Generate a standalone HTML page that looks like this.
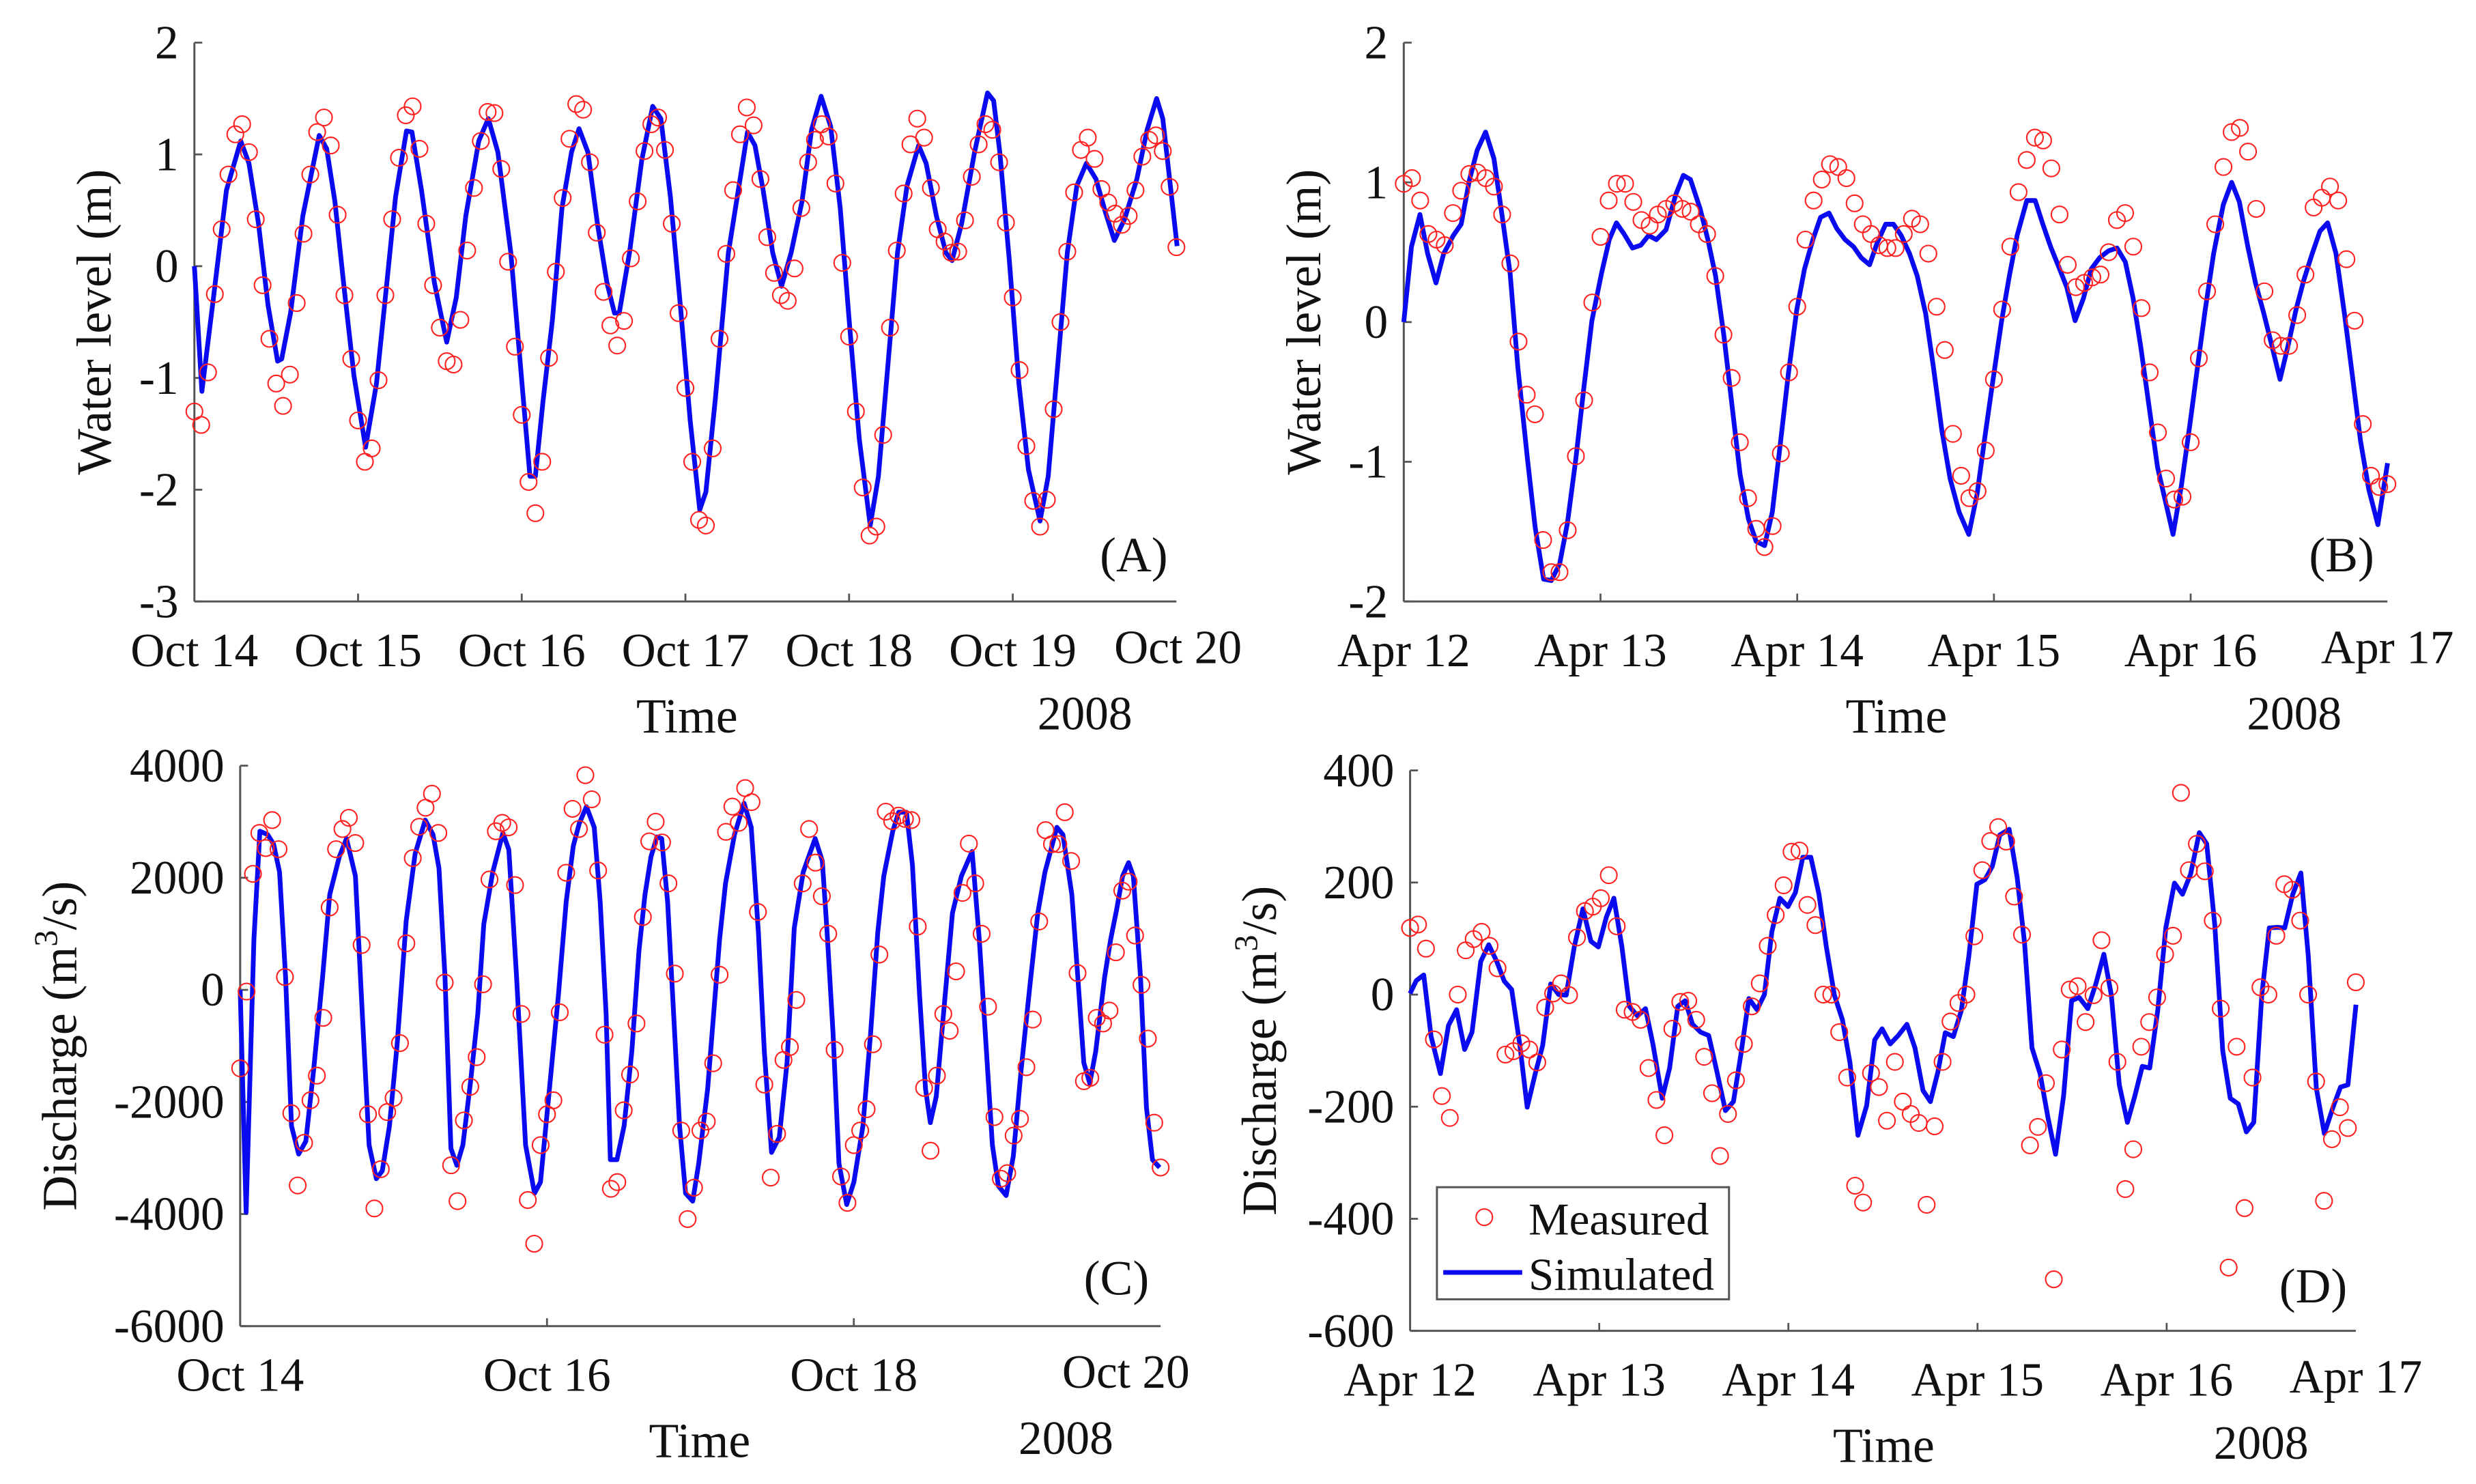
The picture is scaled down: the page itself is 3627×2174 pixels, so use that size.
<!DOCTYPE html>
<html><head><meta charset="utf-8"><style>
html,body{margin:0;padding:0;background:#fff;}
svg{display:block;font-family:"Liberation Serif","DejaVu Serif",serif;}
svg text{font-family:"Liberation Serif","DejaVu Serif",serif;fill:#111;}
</style></head><body>
<svg id="fig" width="3627" height="2174" viewBox="0 0 1568 940" font-family="Liberation Serif, DejaVu Serif, serif" xmlns="http://www.w3.org/2000/svg"></svg>
<script>
// ---------- Panel A: water level Oct 2008 (hours from Oct 14 00:00) ----------
const measA = [-1.30,-1.42,-0.95,-0.25,0.33,0.82,1.18,1.27,1.02,0.42,-0.17,-0.65,-1.05,-1.25,-0.97,-0.33,0.29,0.82,1.2,1.33,1.08,0.46,-0.26,-0.83,-1.38,-1.75,-1.63,-1.02,-0.26,0.42,0.97,1.35,1.43,1.05,0.38,-0.17,-0.55,-0.85,-0.88,-0.48,0.14,0.7,1.12,1.38,1.37,0.87,0.04,-0.72,-1.33,-1.93,-2.21,-1.75,-0.82,-0.05,0.61,1.14,1.45,1.4,0.93,0.3,-0.23,-0.53,-0.71,-0.49,0.07,0.58,1.03,1.27,1.33,1.04,0.38,-0.42,-1.09,-1.75,-2.27,-2.32,-1.63,-0.65,0.11,0.68,1.18,1.42,1.26,0.78,0.26,-0.06,-0.26,-0.31,-0.02,0.52,0.93,1.13,1.27,1.16,0.74,0.03,-0.63,-1.3,-1.98,-2.41,-2.33,-1.51,-0.55,0.14,0.65,1.09,1.32,1.15,0.7,0.33,0.22,0.12,0.13,0.41,0.8,1.09,1.27,1.22,0.93,0.39,-0.28,-0.93,-1.61,-2.1,-2.33,-2.09,-1.28,-0.5,0.13,0.66,1.04,1.15,0.96,0.69,0.57,0.47,0.37,0.45,0.68,0.98,1.13,1.17,1.03,0.71,0.17];
const simHoursA = [0,1.1,2.8,4.7,6.8,8.0,9.4,10.8,12.2,12.8,14.1,15.9,18.3,19.4,20.6,22.0,23.4,25.1,26.7,28.1,29.5,31.1,31.9,33.3,35.2,37.0,38.4,39.8,41.7,43.1,44.5,46.4,47.8,49.2,50.0,51.1,52.5,53.9,55.3,56.4,57.7,59.1,60.5,61.6,62.3,63.8,65.6,67.2,68.4,69.8,71.3,72.7,74.1,75.0,76.4,78.3,80.2,81.1,82.2,83.4,84.8,86.1,87.5,89.1,90.5,91.9,93.3,94.7,96.1,97.5,99.1,100.3,101.7,103.1,104.5,106.2,107.3,108.8,110.2,111.1,112.5,114.4,116.3,117.2,118.1,119.5,120.9,122.3,124.0,125.2,126.6,128.0,129.4,130.8,132.2,133.6,134.9,136.4,138.2,139.7,141.1,142.0,143.0,144.1];
const simValsA = [0,-1.12,-0.28,0.68,1.12,0.92,0.38,-0.35,-0.85,-0.83,-0.42,0.45,1.17,1.05,0.58,-0.22,-0.98,-1.62,-1.05,-0.22,0.62,1.21,1.2,0.68,-0.15,-0.68,-0.28,0.45,1.12,1.32,1.02,0.12,-0.88,-1.88,-1.88,-1.22,-0.48,0.52,1.02,1.23,1.02,0.38,-0.15,-0.42,-0.42,0.12,0.95,1.43,1.32,0.62,-0.38,-1.38,-2.18,-2.02,-1.18,0.12,0.85,1.2,1.08,0.68,0.12,-0.18,0.12,0.58,1.22,1.52,1.25,0.52,-0.55,-1.55,-2.32,-1.88,-0.88,0.12,0.72,1.08,0.92,0.45,0.12,0.05,0.38,1.02,1.55,1.48,1.02,0.05,-1.05,-1.82,-2.28,-1.88,-0.88,0.12,0.72,0.92,0.78,0.48,0.23,0.42,0.78,1.22,1.5,1.32,0.78,0.18];
const ticksYA = [2,1,0,-1,-2,-3];
const tickLabelsXA = ["Oct 14","Oct 15","Oct 16","Oct 17","Oct 18","Oct 19","Oct 20"];

// ---------- Panel B: water level Apr 2008 (hours from Apr 12 00:00) ----------
const measB = [0.99,1.03,0.87,0.63,0.59,0.55,0.78,0.94,1.06,1.07,1.03,0.97,0.77,0.42,-0.14,-0.52,-0.66,-1.56,-1.79,-1.79,-1.49,-0.96,-0.56,0.14,0.61,0.87,0.99,0.99,0.86,0.73,0.69,0.77,0.81,0.85,0.81,0.79,0.70,0.63,0.33,-0.09,-0.40,-0.86,-1.26,-1.48,-1.61,-1.46,-0.94,-0.36,0.11,0.59,0.87,1.02,1.13,1.11,1.03,0.85,0.70,0.63,0.55,0.53,0.53,0.63,0.74,0.70,0.49,0.11,-0.20,-0.80,-1.10,-1.26,-1.21,-0.92,-0.41,0.09,0.54,0.93,1.16,1.32,1.30,1.10,0.77,0.41,0.25,0.28,0.32,0.34,0.50,0.73,0.78,0.54,0.10,-0.36,-0.79,-1.12,-1.27,-1.25,-0.86,-0.26,0.22,0.70,1.11,1.36,1.39,1.22,0.81,0.22,-0.13,-0.17,-0.17,0.05,0.34,0.82,0.89,0.97,0.87,0.45,0.01,-0.73,-1.10,-1.18,-1.16];
const simHoursB = [0,0.94,1.97,2.91,3.93,4.87,6.05,7.0,8.02,8.96,9.98,11.0,11.95,12.97,13.91,15.09,16.03,17.06,18.0,19.02,19.96,20.99,22.01,22.95,24.13,25.07,25.94,26.88,27.9,28.92,29.87,30.81,31.99,33.17,34.11,34.98,36.16,37.1,38.04,39.06,40.01,41.03,42.05,42.99,44.02,44.96,45.98,46.92,47.95,48.89,49.91,50.85,51.88,52.82,53.84,54.86,55.81,56.83,57.77,58.79,59.74,60.68,61.7,62.64,63.67,64.61,65.63,66.65,67.75,68.93,69.95,70.9,71.92,72.94,73.88,74.83,76.01,77.03,77.97,78.91,79.94,80.88,81.9,82.92,83.87,84.89,85.99,87.01,88.03,88.98,89.92,90.94,91.96,92.91,93.85,94.87,95.89,96.84,97.78,98.8,99.98,101.0,101.94,102.97,103.91,104.93,105.95,106.9,107.84,108.86,109.8,110.83,111.77,112.71,113.73,114.76,115.7,116.72,117.74,118.84,120.02];
const simValsB = [0,0.54,0.77,0.49,0.28,0.49,0.62,0.70,1.02,1.23,1.36,1.17,0.78,0.35,-0.32,-0.98,-1.47,-1.84,-1.85,-1.73,-1.44,-0.98,-0.45,0.01,0.35,0.59,0.71,0.63,0.53,0.55,0.62,0.59,0.66,0.91,1.05,1.02,0.81,0.59,0.33,-0.10,-0.58,-1.09,-1.41,-1.57,-1.6,-1.36,-0.85,-0.37,0.09,0.38,0.59,0.75,0.78,0.67,0.59,0.54,0.46,0.41,0.57,0.70,0.70,0.62,0.49,0.33,0.06,-0.32,-0.77,-1.12,-1.36,-1.52,-1.23,-0.82,-0.4,0.01,0.33,0.62,0.87,0.87,0.70,0.54,0.39,0.25,0.01,0.17,0.38,0.46,0.51,0.53,0.43,0.17,-0.18,-0.61,-1.04,-1.28,-1.52,-1.17,-0.74,-0.32,0.09,0.49,0.84,1.0,0.86,0.54,0.28,0.06,-0.18,-0.41,-0.18,0.09,0.30,0.49,0.65,0.71,0.49,0.06,-0.37,-0.85,-1.2,-1.45,-1.01];
const ticksYB = [2,1,0,-1,-2];
const tickLabelsXB = ["Apr 12","Apr 13","Apr 14","Apr 15","Apr 16","Apr 17"];

// ---------- Panel C: discharge Oct 2008 ----------
const measC = [-1400,-30,2070,2800,2530,3030,2510,230,-2200,-3490,-2730,-1970,-1530,-500,1470,2510,2870,3070,2620,800,-2220,-3900,-3200,-2180,-1930,-950,830,2350,2910,3250,3500,2800,130,-3130,-3770,-2330,-1730,-1200,100,1970,2830,2980,2900,1870,-430,-3750,-4530,-2770,-2220,-1970,-400,2090,3230,2870,3830,3400,2130,-800,-3550,-3430,-2150,-1510,-600,1300,2650,3000,2630,1900,290,-2510,-4090,-3530,-2510,-2350,-1310,270,2820,3270,2980,3600,3350,1390,-1690,-3350,-2570,-1250,-1020,-180,1900,2870,2270,1670,1000,-1070,-3330,-3800,-2770,-2510,-2130,-970,630,3180,3010,3110,3050,3030,1130,-1750,-2870,-1530,-430,-730,330,1730,2610,1900,1000,-300,-2270,-3370,-3270,-2600,-2300,-1380,-530,1220,2850,2600,2600,3170,2300,300,-1630,-1570,-500,-600,-370,670,1770,1930,970,90,-870,-2370,-3170];
const simHoursC = [0,0.93,2.15,3.08,4.30,5.23,6.16,7.10,8.03,9.15,10.27,11.49,12.89,14.01,15.50,16.63,18.03,18.96,20.17,21.3,22.23,23.35,24.56,25.97,27.37,28.95,30.17,31.1,32.04,32.97,33.9,34.84,36.05,37.17,38.11,39.51,41.1,42.03,43.24,44.65,46.05,46.98,48.38,49.78,51.0,52.12,53.05,54.17,55.39,56.32,57.25,57.91,58.94,60.06,61.27,62.39,63.33,64.26,65.19,65.94,66.87,67.81,68.74,69.68,70.8,71.73,73.13,74.07,75.0,75.93,77.33,78.83,79.95,81.07,82.0,83.13,84.34,85.55,86.68,88.08,89.95,91.07,91.82,92.75,93.68,94.89,96.01,97.42,98.63,99.75,100.69,102.09,103.02,104.24,105.17,106.29,107.22,107.97,108.9,110.03,111.43,112.83,114.51,115.63,116.75,117.68,118.62,119.83,120.95,122.17,123.57,124.78,125.9,127.77,128.71,130.11,131.04,131.98,132.91,133.84,135.24,136.18,137.11,138.05,138.98,139.73,140.85,141.78,142.72,143.84];
const simValsC = [0,-3970,900,2830,2770,2600,2100,230,-2430,-2930,-2700,-1430,230,1700,2370,2700,2030,-100,-2770,-3370,-3230,-2430,-970,1230,2430,3030,2770,2170,230,-2830,-3130,-2770,-1630,-430,1170,2100,2800,2500,230,-2770,-3630,-3430,-1770,-100,1570,2570,2970,3270,2900,1570,-430,-3030,-3030,-2430,-1100,700,1700,2370,2730,2700,1570,-430,-2430,-3630,-3770,-3100,-1770,-430,900,1900,2770,3330,2900,1030,-1100,-2900,-2630,-1300,1100,2100,2700,2300,1030,-770,-3100,-3830,-3430,-2430,-770,1030,2030,2830,3170,3170,2230,-100,-1770,-2370,-1900,-430,1370,2030,2470,900,-1100,-2770,-3500,-3670,-2970,-1430,100,1370,2100,2900,2770,1700,230,-1300,-1670,-1100,230,900,1430,2030,2270,2030,230,-2100,-3030,-3170];
const ticksYC = [4000,2000,0,-2000,-4000,-6000];
const tickLabelsXC = ["Oct 14","Oct 16","Oct 18","Oct 20"];

// ---------- Panel D: discharge Apr 2008 ----------
const measD = [119,125,82,-80,-181,-220,0,79,99,112,87,47,-107,-101,-87,-98,-121,-23,2,20,-1,102,149,157,172,213,122,-27,-31,-45,-131,-188,-251,-61,-13,-11,-45,-111,-176,-288,-213,-153,-88,-21,20,87,142,195,255,257,160,124,0,0,-67,-148,-341,-371,-140,-165,-225,-120,-191,-213,-229,-375,-235,-120,-48,-15,0,104,222,274,299,273,175,107,-269,-236,-158,-508,-98,9,15,-49,-1,97,12,-120,-347,-276,-93,-49,-5,72,105,360,222,269,220,132,-25,-487,-93,-381,-148,13,0,105,197,187,132,0,-155,-368,-258,-201,-238,22];
const simHoursD = [0,0.79,1.73,2.67,3.85,4.87,5.9,6.92,7.86,8.96,9.98,11.0,11.95,12.89,13.91,14.86,15.88,16.82,17.84,18.86,19.81,20.83,21.93,22.95,23.89,24.92,25.86,26.88,27.82,28.85,29.87,30.81,31.99,32.93,33.96,34.9,35.84,36.86,37.89,38.83,40.01,41.03,41.97,42.99,44.02,44.96,45.9,46.92,47.95,48.89,49.83,50.85,51.88,52.82,53.84,54.86,55.81,56.83,57.93,58.95,59.89,60.92,61.94,63.04,64.06,65.08,66.02,66.97,67.91,68.93,69.95,70.9,71.92,72.94,73.88,74.83,76.01,77.03,77.97,78.91,79.94,80.96,81.9,82.92,83.94,84.89,85.99,87.01,88.03,88.98,89.99,91.02,91.96,92.91,93.85,94.87,95.89,96.99,98.01,99.04,100.14,101.08,102.1,103.12,104.07,105.09,106.11,107.05,108.07,109.02,110.04,110.98,112.0,113.03,113.97,114.99,116.01,117.11,118.06,119.0,120.02];
const simValsD = [2,25,35,-75,-141,-55,-27,-98,-67,59,89,59,24,9,-88,-201,-141,-91,19,0,-1,85,153,95,85,139,172,85,-21,-38,-25,-88,-185,-131,-21,-11,-53,-67,-73,-131,-207,-191,-107,-7,-27,0,112,172,157,182,245,245,179,85,-1,-45,-121,-251,-198,-81,-61,-88,-73,-53,-95,-171,-191,-138,-68,-75,-28,69,197,205,229,285,295,209,92,-95,-141,-221,-285,-181,-11,-5,-25,19,72,-1,-161,-228,-181,-128,-131,-28,119,199,179,215,289,269,125,-101,-185,-195,-245,-228,-1,119,120,119,179,217,69,-167,-248,-201,-165,-161,-18];
const ticksYD = [400,200,0,-200,-400,-600];
const tickLabelsXD = ["Apr 12","Apr 13","Apr 14","Apr 15","Apr 16","Apr 17"];

const NS = "http://www.w3.org/2000/svg";
const FONT = '"Liberation Serif", "DejaVu Serif", serif';
const svg = document.getElementById('fig');
function mk(tag, attrs, parent){
  const e = document.createElementNS(NS, tag);
  for (const k in attrs) e.setAttribute(k, attrs[k]);
  (parent||svg).appendChild(e);
  return e;
}
function txt(s, x, y, size, anchor, parent){
  const t = mk('text', {x:x, y:y, 'font-size':size, 'text-anchor':anchor||'middle'}, parent);
  t.style.fontFamily = FONT;
  t.textContent = s;
  return t;
}

function panel(cfg){
  const g = mk('g', {});
  
  
  const X = h => cfg.x0 + (h/cfg.hours)*(cfg.x1-cfg.x0);
  const Y = v => cfg.y0 + (cfg.ymax - v)/(cfg.ymax-cfg.ymin)*(cfg.y1-cfg.y0);
  const yAxis = mk('line', {x1:cfg.x0, y1:cfg.y0, x2:cfg.x0, y2:cfg.y1, stroke:'#555', 'stroke-width':1.3}, g);
  
  
  const xAxis = mk('line', {x1:cfg.x0, y1:cfg.y1, x2:cfg.x1, y2:cfg.y1, stroke:'#555', 'stroke-width':1.3}, g);
  
  
  cfg.yticks.forEach(v => {
    const y = Y(v);
    mk('line', {x1:cfg.x0, y1:y, x2:cfg.x0+5, y2:y, stroke:'#555', 'stroke-width':1.2}, g);
    const t = txt(String(v), cfg.x0-10, y+10, 30, 'end', g);
    
    
  });
  const nx = cfg.xlabels.length;
  cfg.xlabels.forEach((s,i) => {
    const x = cfg.x0 + i*(cfg.x1-cfg.x0)/(nx-1);
    if (i>0 && i<nx-1) mk('line', {x1:x, y1:cfg.y1, x2:x, y2:cfg.y1-5, stroke:'#555', 'stroke-width':1.2}, g);
    let lx = x, ly = cfg.y1+41;
    if (i===nx-1){ lx = x + cfg.lastDx; ly = cfg.y1 + 39; }
    const t = txt(s, lx, ly, 30, 'middle', g);
    
    
  });
  const xt = txt('Time', cfg.timeX, cfg.y1+83, 31, 'middle', g);
  
  
  const yr = txt('2008', cfg.yearX, cfg.y1+81, 30, 'middle', g);
  
  
  const yt = mk('text', {x:0, y:0, 'font-size':31, 'text-anchor':'middle', transform:`translate(${cfg.titleX},${(cfg.y0+cfg.y1)/2}) rotate(-90)`}, g);
  yt.style.fontFamily = FONT;
  
  
  if (cfg.discharge){
    yt.innerHTML = 'Discharge (m<tspan dy="-12" font-size="21">3</tspan><tspan dy="12">/s)</tspan>';
  } else {
    yt.textContent = 'Water level (m)';
  }
  const pl = txt(cfg.tag, cfg.tagX, cfg.tagY, 31, 'middle', g);
  
  
  let d = '';
  cfg.simH.forEach((h,i) => { d += (i?'L':'M') + X(h).toFixed(2) + ' ' + Y(cfg.simV[i]).toFixed(2); });
  const line = mk('path', {d:d, fill:'none', stroke:'#0a0af0', 'stroke-width':3, 'stroke-linejoin':'round'}, g);
  
  
  const n = cfg.meas.length;
  cfg.meas.forEach((v,i) => {
    const h = i*cfg.hours/(n-1);
    const c = mk('circle', {cx:X(h), cy:Y(v), r:5.2, fill:'none', stroke:'#ff2020', 'stroke-width':0.9}, g);
    
    
  });
}

panel({name:'panel-a-water-level-oct', x0:123, x1:745, y0:27, y1:381, ymax:2, ymin:-3, hours:144,
  yticks:ticksYA, xlabels:tickLabelsXA, lastDx:1, timeX:435, yearX:687, titleX:70, tag:'(A)', tagX:718, tagY:362,
  meas:measA, simH:simHoursA, simV:simValsA});
panel({name:'panel-b-water-level-apr', x0:889, x1:1512, y0:27, y1:381, ymax:2, ymin:-2, hours:120,
  yticks:ticksYB, xlabels:tickLabelsXB, lastDx:0, timeX:1201, yearX:1453, titleX:836, tag:'(B)', tagX:1483, tagY:362,
  meas:measB, simH:simHoursB, simV:simValsB});
panel({name:'panel-c-discharge-oct', x0:152, x1:735, y0:485, y1:840, ymax:4000, ymin:-6000, hours:144,
  yticks:ticksYC, xlabels:tickLabelsXC, lastDx:-22, timeX:443, yearX:675, titleX:48, tag:'(C)', tagX:707, tagY:820, discharge:true,
  meas:measC, simH:simHoursC, simV:simValsC});
panel({name:'panel-d-discharge-apr', x0:893, x1:1492, y0:488, y1:843, ymax:400, ymin:-600, hours:120,
  yticks:ticksYD, xlabels:tickLabelsXD, lastDx:0, timeX:1193, yearX:1432, titleX:808, tag:'(D)', tagX:1465, tagY:825, discharge:true,
  meas:measD, simH:simHoursD, simV:simValsD});

const lg = mk('g', {});


mk('rect', {x:910, y:752, width:185, height:71, fill:'#fff', stroke:'#555', 'stroke-width':1.3}, lg);
const lm = mk('circle', {cx:940, cy:771, r:5.2, fill:'none', stroke:'#ff2020', 'stroke-width':0.9}, lg);


const lt1 = txt('Measured', 968, 782, 29, 'start', lg);


const ll = mk('line', {x1:914, y1:806, x2:964, y2:806, stroke:'#0a0af0', 'stroke-width':3}, lg);


const lt2 = txt('Simulated', 968, 817, 29, 'start', lg);


</script>
</body></html>
